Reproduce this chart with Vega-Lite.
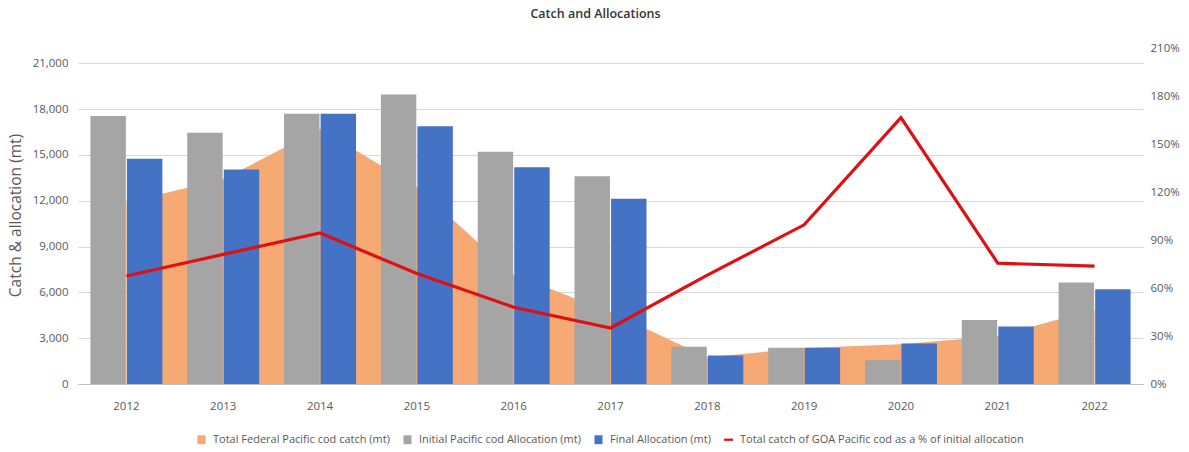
{
  "$schema": "https://vega.github.io/schema/vega-lite/v6.json",
  "autosize": {"type": "none"},
  "width": 1065,
  "height": 336,
  "padding": {"left": 78, "top": 48, "right": 46, "bottom": 68},
  "background": "white",
  "title": {"text": "Catch and Allocations", "font": "Open Sans", "fontSize": 12.5, "fontWeight": 600, "color": "#333333", "anchor": "middle", "dx": -15, "offset": 22},
  "config": {
    "view": {"stroke": null},
    "axis": {"labelFont": "Open Sans", "labelFontSize": 11.5, "labelColor": "#595959", "titleFont": "Open Sans", "titleColor": "#595959", "titleFontWeight": "normal"},
    "legend": {"labelFont": "Open Sans", "labelFontSize": 11, "labelColor": "#595959", "labelLimit": 500}
  },
  "datasets": {
    "bars": [
      {"year": 2012, "series": "Initial Pacific cod Allocation (mt)", "mt": 17550},
      {"year": 2012, "series": "Final Allocation (mt)", "mt": 14750},
      {"year": 2013, "series": "Initial Pacific cod Allocation (mt)", "mt": 16450},
      {"year": 2013, "series": "Final Allocation (mt)", "mt": 14050},
      {"year": 2014, "series": "Initial Pacific cod Allocation (mt)", "mt": 17700},
      {"year": 2014, "series": "Final Allocation (mt)", "mt": 17700},
      {"year": 2015, "series": "Initial Pacific cod Allocation (mt)", "mt": 18950},
      {"year": 2015, "series": "Final Allocation (mt)", "mt": 16875},
      {"year": 2016, "series": "Initial Pacific cod Allocation (mt)", "mt": 15200},
      {"year": 2016, "series": "Final Allocation (mt)", "mt": 14200},
      {"year": 2017, "series": "Initial Pacific cod Allocation (mt)", "mt": 13600},
      {"year": 2017, "series": "Final Allocation (mt)", "mt": 12125},
      {"year": 2018, "series": "Initial Pacific cod Allocation (mt)", "mt": 2440},
      {"year": 2018, "series": "Final Allocation (mt)", "mt": 1860},
      {"year": 2019, "series": "Initial Pacific cod Allocation (mt)", "mt": 2380},
      {"year": 2019, "series": "Final Allocation (mt)", "mt": 2380},
      {"year": 2020, "series": "Initial Pacific cod Allocation (mt)", "mt": 1560},
      {"year": 2020, "series": "Final Allocation (mt)", "mt": 2650},
      {"year": 2021, "series": "Initial Pacific cod Allocation (mt)", "mt": 4190},
      {"year": 2021, "series": "Final Allocation (mt)", "mt": 3760},
      {"year": 2022, "series": "Initial Pacific cod Allocation (mt)", "mt": 6640},
      {"year": 2022, "series": "Final Allocation (mt)", "mt": 6200}
    ],
    "yearly": [
      {"year": 2012, "catch": 11900, "pct": 0.675},
      {"year": 2013, "catch": 13400, "pct": 0.81},
      {"year": 2014, "catch": 16700, "pct": 0.944},
      {"year": 2015, "catch": 12900, "pct": 0.69},
      {"year": 2016, "catch": 7150, "pct": 0.48},
      {"year": 2017, "catch": 4700, "pct": 0.35},
      {"year": 2018, "catch": 1750, "pct": 0.68},
      {"year": 2019, "catch": 2350, "pct": 0.995},
      {"year": 2020, "catch": 2600, "pct": 1.665},
      {"year": 2021, "catch": 3150, "pct": 0.755},
      {"year": 2022, "catch": 4880, "pct": 0.737}
    ]
  },
  "encoding": {
    "x": {"field": "year", "type": "ordinal", "scale": {"paddingInner": 0, "paddingOuter": 0},
      "axis": {"title": null, "labelAngle": 0, "ticks": false, "domainColor": "#BFBFBF", "labelPadding": 16, "grid": false}}
  },
  "layer": [
    {
      "layer": [
        {
          "data": {"name": "yearly"},
          "mark": {"type": "area", "opacity": 1},
          "encoding": {
            "y": {"field": "catch", "type": "quantitative", "scale": {"domain": [0, 21000]},
              "axis": {"orient": "left", "title": "Catch & allocation (mt)", "titleFontSize": 15.5, "titleX": -55, "titleY": 167, "values": [0, 3000, 6000, 9000, 12000, 15000, 18000, 21000], "format": ",.0f", "domain": false, "ticks": false, "labelPadding": 10, "gridColor": "#D9D9D9"}},
            "color": {"datum": "Total Federal Pacific cod catch (mt)", "legend": {"title": null}}
          }
        },
        {
          "data": {"name": "bars"},
          "mark": {"type": "bar"},
          "encoding": {
            "y": {"field": "mt", "type": "quantitative"},
            "xOffset": {"field": "series", "type": "nominal", "scale": {"domain": ["Initial Pacific cod Allocation (mt)", "Final Allocation (mt)"], "paddingInner": 0.03, "paddingOuter": 0.34}},
            "color": {"field": "series", "type": "nominal", "legend": {"title": null}}
          }
        }
      ]
    },
    {
      "data": {"name": "yearly"},
      "mark": {"type": "line", "strokeWidth": 3.2},
      "encoding": {
        "y": {"field": "pct", "type": "quantitative", "scale": {"domain": [0, 2.1]},
          "axis": {"orient": "right", "title": null, "values": [0, 0.3, 0.6, 0.9, 1.2, 1.5, 1.8, 2.1], "format": ".0%", "grid": false, "domain": false, "ticks": false, "labelPadding": 7}},
        "color": {"datum": "Total catch of GOA Pacific cod as a % of initial allocation",
          "scale": {"domain": ["Total Federal Pacific cod catch (mt)", "Initial Pacific cod Allocation (mt)", "Final Allocation (mt)", "Total catch of GOA Pacific cod as a % of initial allocation"],
            "range": ["#F6A973", "#A5A5A5", "#4472C4", "#DD1111"]},
          "legend": {"title": null, "orient": "none", "legendX": 118, "legendY": 386, "direction": "horizontal", "columnPadding": 12, "labelOffset": 6,
            "symbolSize": 80, "labelLimit": 500,
            "encode": {"symbols": {"update": {
              "shape": {"signal": "datum.value === 'Total catch of GOA Pacific cod as a % of initial allocation' ? 'M-1,-0.25H1V0.25H-1Z' : 'M-0.9,-1H0.9V1H-0.9Z'"},
              "fill": {"scale": "color", "field": "value"},
              "strokeWidth": {"value": 0},
              "opacity": {"value": 1}
            }}}
          }
        }
      }
    }
  ],
  "resolve": {"scale": {"y": "independent"}}
}
